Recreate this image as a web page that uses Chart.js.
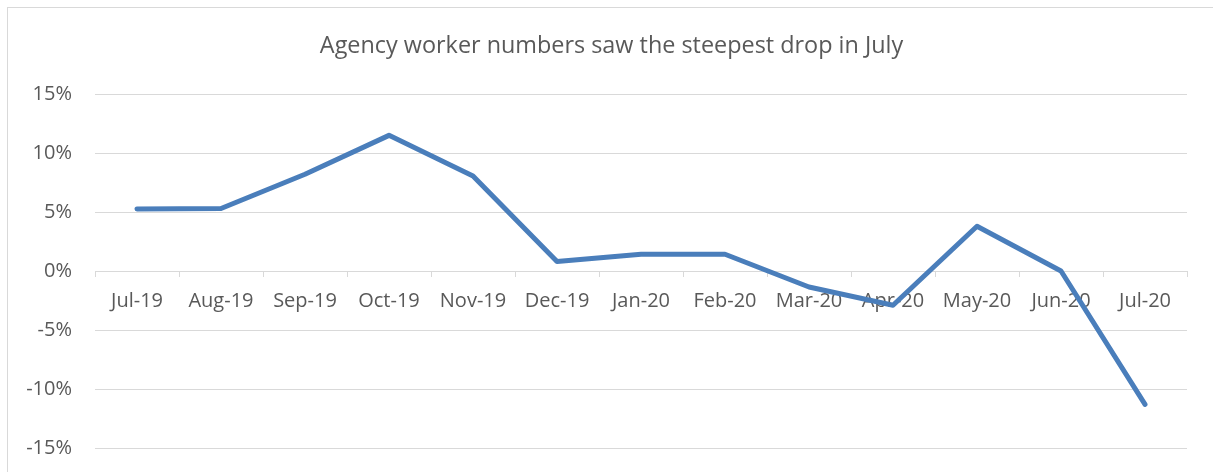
<!DOCTYPE html>
<html>
<head>
<meta charset="utf-8">
<script src="https://cdn.jsdelivr.net/npm/chart.js@4"></script>
<style>
    html, body { margin: 0; padding: 0; background: #fff; overflow: hidden; }
    #wrap { position: absolute; left: 0; top: 0; width: 1213px; height: 472px; }
    #frame {
        position: absolute; left: 7px; top: 7px; width: 1300px; height: 600px;
        border: 1px solid #d9d9d9; pointer-events: none;
    }
</style>
</head>
<body>
<div id="wrap"><canvas id="chart" width="1213" height="472"></canvas></div>
<div id="frame"></div>
<script>
// Monthly change in agency worker numbers (%)
const months = ['Jul-19', 'Aug-19', 'Sep-19', 'Oct-19', 'Nov-19', 'Dec-19', 'Jan-20',
                'Feb-20', 'Mar-20', 'Apr-20', 'May-20', 'Jun-20', 'Jul-20'];
const change = [5.25, 5.3, 8.2, 11.5, 8.05, 0.8, 1.42, 1.42, -1.35, -2.9, 3.8, 0.0, -11.3];
const yTicks = [-15, -10, -5, 0, 5, 10, 15];

const titleText = 'Agency worker numbers saw the steepest drop in July';
const fontFamily = '"Open Sans", Lato, sans-serif';
const textColor = '#595959';
const gridColor = '#d9d9d9';

const ctx = document.getElementById('chart').getContext('2d');

new Chart(ctx, {
    type: 'line',
    data: {
        labels: months,
        datasets: [
            {
                label: 'Agency workers',
                data: change,
                borderColor: '#4a7ebb',
                borderWidth: 5,
                borderCapStyle: 'round',
                borderJoinStyle: 'round',
                pointRadius: 0,
                tension: 0,
                fill: false
            }
        ]
    },
    options: {
        responsive: false,
        animation: false,
        layout: {
            // left padding only to centre the title like the original
            padding: { left: 10, right: 0, top: 0, bottom: 24 }
        },
        plugins: {
            legend: { display: false },
            tooltip: { enabled: false },
            title: {
                display: true,
                text: titleText,
                color: textColor,
                font: { family: fontFamily, size: 23.4, weight: 'normal' },
                padding: { top: 32, bottom: 34 }
            }
        },
        scales: {
            x: {
                position: { y: 0 },
                offset: true,
                grid: {
                    offset: true,
                    drawOnChartArea: false,
                    drawTicks: true,
                    tickLength: 5,
                    color: gridColor
                },
                border: { display: true, color: gridColor, width: 1 },
                ticks: {
                    color: textColor,
                    font: { family: fontFamily, size: 20 },
                    padding: 13,
                    maxRotation: 0,
                    autoSkip: false
                },
                afterFit: scale => { scale.height = 0; }
            },
            y: {
                min: -15,
                max: 15,
                afterBuildTicks: scale => {
                    scale.ticks = yTicks.map(v => ({ value: v }));
                },
                grid: {
                    color: gridColor,
                    lineWidth: 1,
                    drawTicks: true,
                    tickLength: 23,
                    tickColor: 'rgba(0,0,0,0)'
                },
                border: { display: false },
                ticks: {
                    color: textColor,
                    font: { family: fontFamily, size: 20 },
                    padding: 0,
                    callback: v => v + '%'
                },
                afterFit: scale => { scale.width = 85; }
            },
            // empty right-hand spacer so the plot stops short of the edge
            spacer: {
                type: 'linear',
                position: 'right',
                grid: { drawOnChartArea: false, drawTicks: false },
                border: { display: false },
                ticks: { display: false },
                afterFit: scale => { scale.width = 26; }
            }
        }
    }
});
</script>
</body>
</html>
